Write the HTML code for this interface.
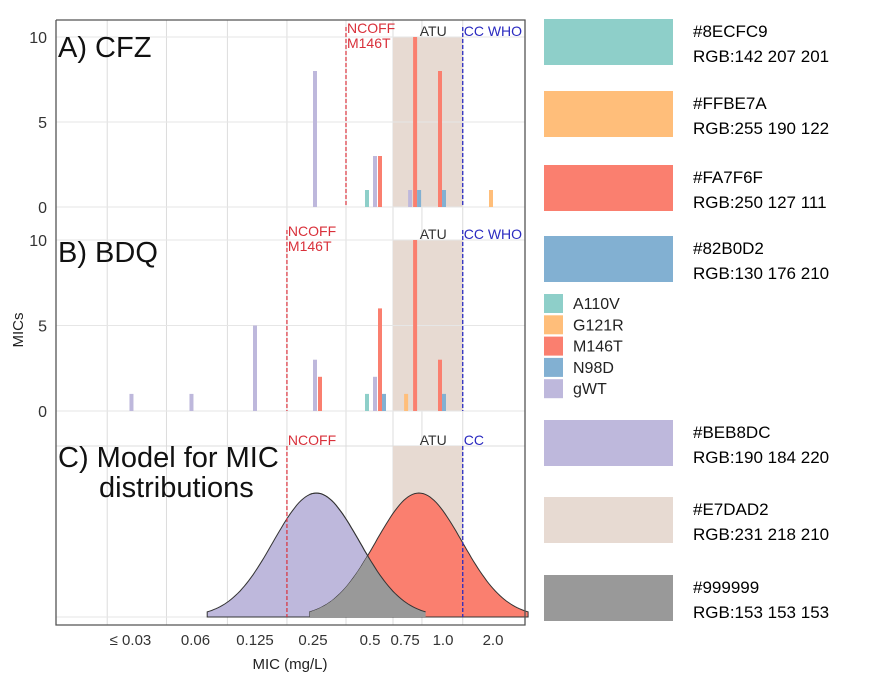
<!DOCTYPE html>
<html><head><meta charset="utf-8">
<style>
body{margin:0;background:#fff;width:894px;height:688px;overflow:hidden;font-family:"Liberation Sans",sans-serif}
svg text{font-family:"Liberation Sans",sans-serif}
</style></head>
<body>
<svg id="chart" width="894" height="688"></svg>
<script>
const categories=[0.03,0.06,0.125,0.25,0.5,0.75,1.0,2.0];
const tickLabels=["≤ 0.03","0.06","0.125","0.25","0.5","0.75","1.0","2.0"];
const seriesNames=["A110V","G121R","M146T","N98D","gWT"];
const seriesColors=["#8ECFC9","#FFBE7A","#FA7F6F","#82B0D2","#BEB8DC"];
// panel A (CFZ) counts per category, per series
const cfzA110V=[0,0,0,0,1,0,0,0];
const cfzG121R=[0,0,0,0,0,0,0,1];
const cfzM146T=[0,0,0,0,3,10,8,0];
const cfzN98D=[0,0,0,0,0,1,1,0];
const cfzGWT=[0,0,0,8,3,1,0,0];
// panel B (BDQ)
const bdqA110V=[0,0,0,0,1,0,0,0];
const bdqG121R=[0,0,0,0,0,1,0,0];
const bdqM146T=[0,0,0,2,6,10,3,0];
const bdqN98D=[0,0,0,0,1,0,1,0];
const bdqGWT=[1,1,5,3,2,0,0,0];
const yTicks=[0,5,10];
const gridValues=[0.0232,0.046,0.093,0.185,0.366,0.63,0.88,1.41];
// breakpoints
const ncoffCFZ=0.366, ncoffBDQ=0.185, atuLow=0.63, atuHigh=1.41, ccWho=1.41;
// model distributions (log2 mean, sd in log2 units)
const modelMeans=[0.26,0.85];
const modelSd=0.72;
const swatches=[["#8ECFC9","RGB:142 207 201",19],["#FFBE7A","RGB:255 190 122",91],["#FA7F6F","RGB:250 127 111",165],["#82B0D2","RGB:130 176 210",236],["#BEB8DC","RGB:190 184 220",420],["#E7DAD2","RGB:231 218 210",497],["#999999","RGB:153 153 153",575]];

const svg=document.getElementById('chart');
const NS="http://www.w3.org/2000/svg";
function el(t,a,p){const e=document.createElementNS(NS,t);for(const k in a)e.setAttribute(k,a[k]);(p||svg).appendChild(e);return e;}
const x=v=>313+60*Math.log2(v/0.25);
const L=56,R=525;
const offs=[-6,-2,7,11,2];
const labelShift=[1,6,2,0,-3,-3,10,0];
const panels=[
 {name:"cfz",y0:207,y10:37,title:"A) CFZ",ty:57,ncoff:ncoffCFZ,ncl:["NCOFF","M146T"],cc:"CC WHO",data:[cfzA110V,cfzG121R,cfzM146T,cfzN98D,cfzGWT]},
 {name:"bdq",y0:411,y10:240,title:"B) BDQ",ty:262,ncoff:ncoffBDQ,ncl:["NCOFF","M146T"],cc:"CC WHO",data:[bdqA110V,bdqG121R,bdqM146T,bdqN98D,bdqGWT]}
];
let f=el('rect',{x:L,y:20,width:R-L,height:605,fill:'#fff',stroke:'none'});

gridValues.forEach(v=>{let g=el('line',{x1:x(v),x2:x(v),y1:20,y2:625,stroke:'#dcdcdc','stroke-width':1});
});
panels.forEach(p=>{
 const y=v=>p.y0+(p.y10-p.y0)*v/10;
 let atu=el('rect',{x:x(atuLow),y:y(10),width:x(atuHigh)-x(atuLow),height:y(0)-y(10),fill:'#E7DAD2'});
 
 yTicks.forEach(t=>{let g=el('line',{x1:L,x2:R,y1:y(t),y2:y(t),stroke:'#e6e6e6'});
  
  let tl=el('text',{x:47,y:y(t)+6,'text-anchor':'end','font-size':16,fill:'#333'});tl.textContent=t;
  });
 p.data.forEach((arr,si)=>arr.forEach((v,ci)=>{if(!v)return;
  let b=el('rect',{x:x(categories[ci])+offs[si]-2,y:y(v),width:4,height:y(0)-y(v),fill:seriesColors[si]});
  }));
 let nl=el('line',{x1:x(p.ncoff),x2:x(p.ncoff),y1:p.y10-10,y2:y(0),stroke:'#d9303a','stroke-dasharray':'4,2','stroke-width':1.2});
 
 p.ncl.forEach((s,i)=>{let t=el('text',{x:x(p.ncoff)+1,y:p.y10-4+i*15,'font-size':14,fill:'#d9303a'});t.textContent=s;
  });
 let cl=el('line',{x1:x(ccWho),x2:x(ccWho),y1:p.y10-10,y2:y(0),stroke:'#2a2ac0','stroke-dasharray':'4,2','stroke-width':1.3});
 
 let at=el('text',{x:x(atuHigh)-43,y:p.y10-1,'font-size':14,fill:'#333'});at.textContent="ATU";
 
 let ct=el('text',{x:x(ccWho)+1,y:p.y10-1,'font-size':14,fill:'#2a2ac0'});ct.textContent=p.cc;
 
 let tt=el('text',{x:58,y:p.ty,'font-size':29,fill:'#111'});tt.textContent=p.title;
 
});
// panel C
const cTop=446,cBase=617,cPeak=493;
let hg=el('line',{x1:L,x2:R,y1:cTop,y2:cTop,stroke:'#dcdcdc'});
let bg=el('line',{x1:L,x2:R,y1:cBase,y2:cBase,stroke:'#e6e6e6'});
let catu=el('rect',{x:x(atuLow),y:cTop,width:x(atuHigh)-x(atuLow),height:cBase-cTop,fill:'#E7DAD2'});

const dens=(lv,m)=>Math.exp(-Math.pow(lv-Math.log2(m),2)/(2*modelSd*modelSd));
function curve(m){const c=Math.log2(m),pts=[];for(let i=0;i<=100;i++){const lv=c-1.82+3.64*i/100;pts.push([x(Math.pow(2,lv)),cBase-(cBase-cPeak)*dens(lv,m)]);}return pts;}
function path(pts){return 'M'+pts[0][0].toFixed(1)+','+cBase+' '+pts.map(p=>'L'+p[0].toFixed(1)+','+p[1].toFixed(1)).join(' ')+' L'+pts[pts.length-1][0].toFixed(1)+','+cBase+'Z';}
let c1=el('path',{d:path(curve(modelMeans[0])),fill:'#BEB8DC',stroke:'#333','stroke-width':1});

let c2=el('path',{d:path(curve(modelMeans[1])),fill:'#FA7F6F',stroke:'#333','stroke-width':1});

(function(){const lo=Math.log2(modelMeans[1])-1.82,hi=Math.log2(modelMeans[0])+1.82,pts=[];
for(let i=0;i<=100;i++){const lv=lo+(hi-lo)*i/100;pts.push([x(Math.pow(2,lv)),cBase-(cBase-cPeak)*Math.min(dens(lv,modelMeans[0]),dens(lv,modelMeans[1]))]);}
let o=el('path',{d:path(pts),fill:'#999999',stroke:'none'});
const wt=curve(modelMeans[0]).filter(p=>p[0]>=x(Math.pow(2,lo)));
let e1=el('path',{d:'M'+wt.map(p=>p[0].toFixed(1)+','+p[1].toFixed(1)).join(' L'),fill:'none',stroke:'#333'});
})();
let cn=el('line',{x1:x(ncoffBDQ),x2:x(ncoffBDQ),y1:cTop,y2:cBase,stroke:'#d9303a','stroke-dasharray':'4,2','stroke-width':1.2});

let cc=el('line',{x1:x(ccWho),x2:x(ccWho),y1:cTop,y2:cBase,stroke:'#2a2ac0','stroke-dasharray':'4,2','stroke-width':1.3});

[["NCOFF",x(ncoffBDQ)+1,'#d9303a'],["ATU",x(atuHigh)-43,'#333'],["CC",x(ccWho)+1,'#2a2ac0']].forEach(a=>{
 let t=el('text',{x:a[1],y:cTop-1,'font-size':14,fill:a[2]});t.textContent=a[0];
 });
[["C) Model for MIC",58,467],["distributions",99,497]].forEach(a=>{let t=el('text',{x:a[1],y:a[2],'font-size':29,fill:'#111'});t.textContent=a[0];
 });
let ax=el('path',{d:`M${L},20 V625 H${R} V20 H${L}`,fill:'none',stroke:'#555','stroke-width':1.3});

categories.forEach((c,i)=>{let t=el('text',{x:x(c)+labelShift[i],y:645,'text-anchor':'middle','font-size':15,fill:'#333'});t.textContent=tickLabels[i];
 });
let xt=el('text',{x:290,y:669,'text-anchor':'middle','font-size':15,fill:'#222'});xt.textContent="MIC (mg/L)";

let yt=el('text',{x:23,y:330,'text-anchor':'middle','font-size':15,fill:'#222',transform:'rotate(-90 23 330)'});yt.textContent="MICs";

seriesNames.forEach((s,i)=>{const yy=294+21.3*i;
 let r=el('rect',{x:544,y:yy,width:19,height:19,fill:seriesColors[i]});
 
 let t=el('text',{x:573,y:yy+15,'font-size':16,fill:'#222'});t.textContent=s;
 });
swatches.forEach(s=>{let r=el('rect',{x:544,y:s[2],width:129,height:46,fill:s[0]});
 
 let t1=el('text',{x:693,y:s[2]+18,'font-size':17,fill:'#000'});t1.textContent=s[0];
 
 let t2=el('text',{x:693,y:s[2]+43,'font-size':17,fill:'#000'});t2.textContent=s[1];
 });
</script>
</body></html>
